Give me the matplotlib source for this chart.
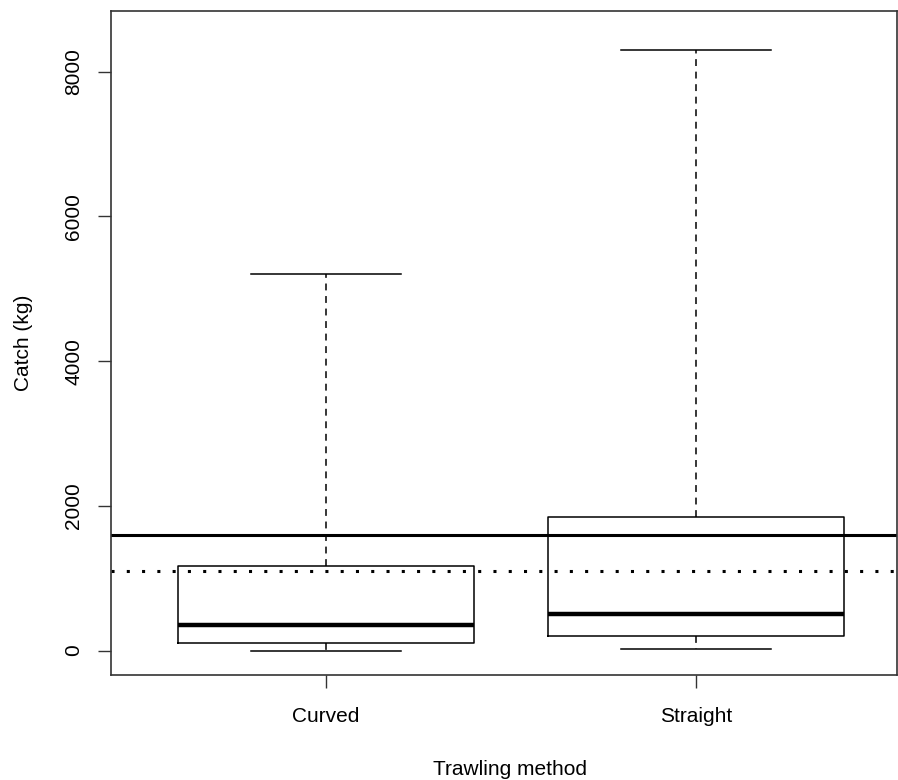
import numpy as np
import matplotlib
matplotlib.use("Agg")
import matplotlib.pyplot as plt

plt.rcParams['font.family'] = ['Liberation Sans', 'DejaVu Sans']

# values (kg)
methods = ["Curved", "Straight"]
whisker_low = [0, 18]
q1 = [110, 205]
medians = [358, 510]
q3 = [1165, 1850]
whisker_high = [5200, 8300]
mean_line = 1594      # solid horizontal line
median_line = 1100    # dotted horizontal line

stats = []
for i in range(len(methods)):
    stats.append(dict(label=methods[i], whislo=whisker_low[i], q1=q1[i],
                      med=medians[i], q3=q3[i], whishi=whisker_high[i], fliers=[]))

fig = plt.figure(figsize=(8.98, 7.8), dpi=100)
ax = fig.add_axes([111/898, (780-674.7)/780, (897-111)/898, (674.7-11)/780])

ax.bxp(stats, positions=[1, 2], widths=0.8, showfliers=False,
       boxprops=dict(color="black", linewidth=1.1),
       medianprops=dict(color="black", linewidth=3.2, solid_capstyle="butt"),
       whiskerprops=dict(color="black", linewidth=1.1, linestyle=(0, (4.5, 3.7))),
       capprops=dict(color="black", linewidth=1.1), capwidths=0.405)

ax.axhline(mean_line, color="black", linewidth=2.2)
ax.axhline(median_line, color="black", linewidth=2.2, linestyle=(0, (1, 4)))

ax.set_xlim(0.419, 2.543)
ax.set_ylim(-333, 8840)
ax.set_yticks([0, 2000, 4000, 6000, 8000])
ax.set_xticks([1, 2])
ax.set_xticklabels(methods)
for lab in ax.get_yticklabels():
    lab.set_rotation(90)
    lab.set_va("center")

ax.tick_params(axis="both", length=9.5, width=1.0, labelsize=15, color="#333333")
ax.tick_params(axis="x", pad=14)
ax.tick_params(axis="y", pad=10.5)
for s in ax.spines.values():
    s.set_linewidth(1.2)
    s.set_color("#333333")

ax.set_xlabel("Trawling method", fontsize=15, labelpad=24)
ax.xaxis.label.set_x(0.5076)
ax.set_ylabel("Catch (kg)", fontsize=15, labelpad=22.5)

fig.savefig("out.png", dpi=100)
